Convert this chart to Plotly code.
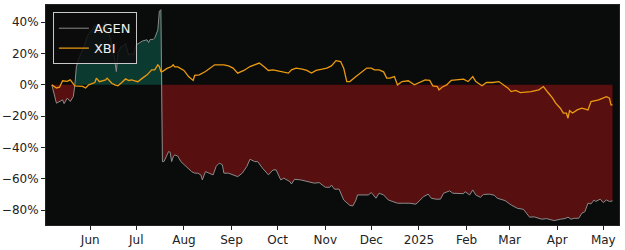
import numpy as np
import plotly.graph_objects as go

agen_dates = [
    "2024-05-07", "2024-05-10", "2024-05-14", "2024-05-15", "2024-05-17", "2024-05-19",
    "2024-05-21", "2024-05-22", "2024-05-23", "2024-05-25", "2024-05-28", "2024-05-30",
    "2024-06-02", "2024-06-04", "2024-06-07", "2024-06-11", "2024-06-14", "2024-06-16",
    "2024-06-18", "2024-06-19", "2024-06-21", "2024-06-23", "2024-06-24", "2024-06-26",
    "2024-06-28", "2024-06-29", "2024-07-01", "2024-07-05", "2024-07-08", "2024-07-09",
    "2024-07-10", "2024-07-12", "2024-07-13", "2024-07-15", "2024-07-16", "2024-07-17",
    "2024-07-18", "2024-07-19", "2024-07-22", "2024-07-23", "2024-07-24", "2024-07-25",
    "2024-07-26", "2024-07-28", "2024-07-30", "2024-08-02", "2024-08-04", "2024-08-06",
    "2024-08-08", "2024-08-10", "2024-08-12", "2024-08-13", "2024-08-15", "2024-08-18",
    "2024-08-20", "2024-08-22", "2024-08-24", "2024-08-26", "2024-08-27", "2024-08-30",
    "2024-09-02", "2024-09-05", "2024-09-08", "2024-09-11", "2024-09-13", "2024-09-16",
    "2024-09-18", "2024-09-21", "2024-09-25", "2024-09-28", "2024-09-30", "2024-10-03",
    "2024-10-05", "2024-10-09", "2024-10-10", "2024-10-12", "2024-10-16", "2024-10-21",
    "2024-10-25", "2024-10-28", "2024-11-01", "2024-11-04", "2024-11-05", "2024-11-07",
    "2024-11-10", "2024-11-13", "2024-11-15", "2024-11-17", "2024-11-19", "2024-11-21",
    "2024-11-22", "2024-11-26", "2024-11-29", "2024-12-01", "2024-12-04", "2024-12-06",
    "2024-12-09", "2024-12-12", "2024-12-16", "2024-12-18", "2024-12-22", "2024-12-26",
    "2024-12-30", "2025-01-02", "2025-01-04", "2025-01-07", "2025-01-09", "2025-01-12",
    "2025-01-15", "2025-01-17", "2025-01-21", "2025-01-23", "2025-01-27", "2025-01-30",
    "2025-01-31", "2025-02-03", "2025-02-05", "2025-02-07", "2025-02-10", "2025-02-12",
    "2025-02-16", "2025-02-19", "2025-02-21", "2025-02-26", "2025-03-02", "2025-03-06",
    "2025-03-10", "2025-03-12", "2025-03-14", "2025-03-17", "2025-03-22", "2025-03-25",
    "2025-03-27", "2025-03-30", "2025-04-03", "2025-04-06", "2025-04-08", "2025-04-10",
    "2025-04-12", "2025-04-15", "2025-04-17", "2025-04-19", "2025-04-21", "2025-04-23",
    "2025-04-25", "2025-04-26", "2025-04-29", "2025-05-01", "2025-05-03", "2025-05-05",
    "2025-05-07",
]
agen_pct = [
    0, -11.7, -9.6, -12.0, -8.5, -10.6,
    -7.5, 0, 11.7, 18, 24.5, 31,
    35, 38, 33, 40, 30, 22,
    8.5, 20, 24.5, 25, 26.6, 19,
    20, 19, 25.6, 28, 28.8, 27,
    29, 29, 30, 35, 47, 48,
    -49, -49, -42.6, -43, -49, -46,
    -44.7, -45.5, -49, -52, -54, -55.4,
    -56.4, -56.4, -57.5, -60.7, -55.4, -56.4,
    -57.5, -52, -50, -51, -56.4, -56.4,
    -57.5, -58.6, -56.4, -52, -47.5, -49,
    -49, -53, -57.5, -54.3, -54.3, -60.7,
    -59.6, -61.8, -63.3, -60.3, -60.7, -61.8,
    -62.8, -62.4, -65.4, -65.4, -64, -66.6,
    -66.6, -73.5, -75.6, -77, -77.3, -73.5,
    -70.3, -70.3, -70.3, -68.8, -72.4, -69.2,
    -70.3, -73.5, -75.2, -75.6, -75.6, -75.6,
    -76.2, -73.5, -71.4, -69.8, -72.4, -73,
    -73, -69.2, -67.7, -69.2, -69.2, -69.5,
    -68.2, -70.3, -67.1, -70.3, -71.8, -70,
    -69.8, -70.5, -72.4, -73.9, -76.7, -78.8,
    -79.5, -82, -84.5, -84.3, -85.8, -85.4,
    -85.8, -86.7, -85.8, -85.4, -84.5, -85.8,
    -85.2, -85.2, -82, -81, -75.6, -76,
    -73.5, -74.5, -73, -75.2, -73.5, -74.5,
    -74.1,
]

xbi_dates = [
    "2024-05-07", "2024-05-10", "2024-05-12", "2024-05-14", "2024-05-17", "2024-05-19",
    "2024-05-22", "2024-05-25", "2024-05-27", "2024-05-29", "2024-05-31", "2024-06-04",
    "2024-06-05", "2024-06-07", "2024-06-11", "2024-06-12", "2024-06-15", "2024-06-17",
    "2024-06-19", "2024-06-21", "2024-06-24", "2024-06-26", "2024-06-28", "2024-06-30",
    "2024-07-02", "2024-07-05", "2024-07-08", "2024-07-11", "2024-07-13", "2024-07-15",
    "2024-07-16", "2024-07-17", "2024-07-18", "2024-07-21", "2024-07-24", "2024-07-25",
    "2024-07-26", "2024-07-28", "2024-08-01", "2024-08-04", "2024-08-07", "2024-08-08",
    "2024-08-11", "2024-08-15", "2024-08-18", "2024-08-21", "2024-08-23", "2024-08-27",
    "2024-08-30", "2024-09-02", "2024-09-05", "2024-09-09", "2024-09-13", "2024-09-16",
    "2024-09-19", "2024-09-22", "2024-09-25", "2024-09-28", "2024-10-01", "2024-10-05",
    "2024-10-08", "2024-10-10", "2024-10-13", "2024-10-17", "2024-10-20", "2024-10-23",
    "2024-10-26", "2024-10-30", "2024-11-02", "2024-11-05", "2024-11-08", "2024-11-11",
    "2024-11-13", "2024-11-15", "2024-11-17", "2024-11-21", "2024-11-25", "2024-11-28",
    "2024-12-01", "2024-12-03", "2024-12-06", "2024-12-09", "2024-12-11", "2024-12-13",
    "2024-12-16", "2024-12-18", "2024-12-21", "2024-12-25", "2024-12-29", "2025-01-02",
    "2025-01-05", "2025-01-08", "2025-01-10", "2025-01-13", "2025-01-14", "2025-01-16",
    "2025-01-19", "2025-01-22", "2025-01-27", "2025-01-30", "2025-02-02", "2025-02-05",
    "2025-02-07", "2025-02-11", "2025-02-14", "2025-02-18", "2025-02-22", "2025-02-25",
    "2025-02-28", "2025-03-02", "2025-03-05", "2025-03-08", "2025-03-12", "2025-03-15",
    "2025-03-20", "2025-03-23", "2025-03-26", "2025-03-29", "2025-03-31", "2025-04-03",
    "2025-04-05", "2025-04-07", "2025-04-08", "2025-04-09", "2025-04-11", "2025-04-14",
    "2025-04-17", "2025-04-21", "2025-04-23", "2025-04-28", "2025-05-03", "2025-05-05",
    "2025-05-06", "2025-05-07",
]
xbi_pct = [
    0, -2, -1.5, 2.6, 2.2, 3.2,
    -0.6, -0.8, -1, -2, 0, 1.5,
    4.3, 2, 3.2, 4.3, 1, 0,
    -0.6, 1, 3.8, 2.8, 3.2, 2.6,
    2, 4.3, 6.4, 9.6, 9.6, 12.8,
    11.7, 8.5, 8.5, 10.5, 11.7, 12.8,
    11.5, 11.5, 9.2, 5.3, 2.8, 6,
    6.4, 8.5, 10.7, 12.8, 12.8, 12.8,
    12.1, 10.7, 7.5, 9.2, 11.7, 12.8,
    13.9, 11.7, 9.2, 9.6, 8.9, 7.9,
    7.5, 9.6, 10.7, 10, 9.2, 7.5,
    9.2, 10, 10.7, 12.1, 15.5, 14.9,
    10.7, 2.1, 2.1, 5.3, 8.5, 10.7,
    10.7, 9.6, 9.6, 8.3, 4.3, 4.3,
    5.3, 0, 2.1, 2.6, 0, 2.1,
    3.2, 2.8, -0.6, -1.1, -3.2, -1.5,
    0, 2.8, 3.2, 3.6, 2.1, 5.3,
    2.1, -0.6, 1.5, 1.5, 2.1, 0,
    -2.1, -4.3, -3.5, -4.9, -4.5, -4.3,
    -3.2, -1.1, -4.9, -8.5, -11.7, -14.9,
    -18.1, -18.1, -21.3, -16.5, -18, -16,
    -14.9, -16, -10.7, -9.6, -7.5, -8.5,
    -12.8, -12.8,
]

y_ticks = [-80, -60, -40, -20, 0, 20, 40]
y_tick_labels = ["\u221280%", "\u221260%", "\u221240%", "\u221220%", "0%", "20%", "40%"]
x_ticks = ["2024-06-01", "2024-07-01", "2024-08-01", "2024-09-01", "2024-10-01",
           "2024-11-01", "2024-12-01", "2025-01-01", "2025-02-01", "2025-03-01",
           "2025-04-01", "2025-05-01"]
x_tick_labels = ["Jun", "Jul", "Aug", "Sep", "Oct", "Nov", "Dec", "2025", "Feb", "Mar", "Apr", "May"]

agen = np.array(agen_pct, dtype=float)
pos = np.maximum(agen, 0)
neg = np.minimum(agen, 0)

fig = go.Figure()
fig.add_trace(go.Scatter(x=agen_dates, y=pos, mode="lines", line=dict(width=0),
                         fill="tozeroy", fillcolor="#0b3b30", showlegend=False, hoverinfo="skip"))
fig.add_trace(go.Scatter(x=agen_dates, y=neg, mode="lines", line=dict(width=0),
                         fill="tozeroy", fillcolor="#570f10", showlegend=False, hoverinfo="skip"))
fig.add_trace(go.Scatter(x=agen_dates, y=agen_pct, mode="lines", name="AGEN",
                         line=dict(color="#8c8c8c", width=1)))
fig.add_trace(go.Scatter(x=xbi_dates, y=xbi_pct, mode="lines", name="XBI",
                         line=dict(color="#ec9a10", width=1.3)))

font = dict(family="DejaVu Sans", size=12, color="#222222")
fig.update_layout(
    width=625, height=250,
    margin=dict(l=46, r=6, t=5, b=25),
    paper_bgcolor="white",
    plot_bgcolor="#0a0b0b",
    font=font,
    showlegend=True,
    legend=dict(x=0.012, y=0.967, xanchor="left", yanchor="top",
                bgcolor="rgba(12,12,12,0.85)", bordercolor="#c8c8c8", borderwidth=1,
                font=dict(family="DejaVu Sans", size=13, color="#f0f0f0"),
                tracegroupgap=0, itemwidth=30),
    xaxis=dict(range=["2024-05-03 05:00", "2025-05-11 05:00"], tickmode="array",
               tickvals=x_ticks, ticktext=x_tick_labels, showgrid=False, zeroline=False,
               ticks="outside", ticklen=4, tickcolor="#222", showline=True,
               linecolor="#222", mirror=True, tickfont=font, automargin=False),
    yaxis=dict(range=[-89.5, 51], tickmode="array", tickvals=y_ticks, ticktext=y_tick_labels,
               showgrid=False, zeroline=False, ticks="outside", ticklen=4, tickcolor="#222",
               showline=True, linecolor="#222", mirror=True, tickfont=font, automargin=False),
)

fig.write_html("out.html")
